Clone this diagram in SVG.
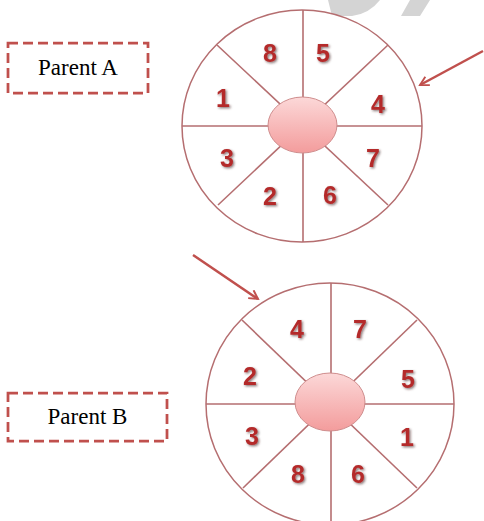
<svg xmlns="http://www.w3.org/2000/svg" width="484" height="521" viewBox="0 0 484 521">
<style>
.wheel{fill:#fff;stroke:#b56e70;stroke-width:1.5}
.spoke{stroke:#b56e70;stroke-width:1.6;fill:none}
.hub{fill:url(#hubGrad);stroke:#cf8d8d;stroke-width:1}
.num{font-family:"Liberation Sans",Arial,sans-serif;font-weight:bold;font-size:25px;fill:#b42c2c;text-anchor:middle;filter:url(#sh)}
.box{fill:none;stroke:#c0504d;stroke-width:2.75;stroke-dasharray:10 5}
.lbl{font-family:"Liberation Serif","Times New Roman",serif;font-size:23px;fill:#000;text-anchor:middle}
.arrow{stroke:#c0504d;stroke-width:2.5;fill:none;marker-end:url(#ah)}
.wm{fill:#d4d4d4}
</style>
<defs>
<linearGradient id="hubGrad" x1="0" y1="0" x2="0" y2="1">
<stop offset="0" stop-color="#fcd8d8"/>
<stop offset="1" stop-color="#f39c9c"/>
</linearGradient>
<filter id="sh" x="-30%" y="-30%" width="160%" height="160%">
<feDropShadow dx="1.3" dy="1.3" stdDeviation="0.9" flood-color="#3a2020" flood-opacity="0.6"/>
</filter>
<marker id="ah" viewBox="0 0 12 12" refX="10" refY="6" markerWidth="4.6" markerHeight="4.6" orient="auto" markerUnits="strokeWidth">
<path d="M1,1 L10,6 L1,11" fill="none" stroke="#c0504d" stroke-width="2"/>
</marker>
</defs>
<g id="watermark">
<path class="wm" d="M328,0 L380,0 Q369,14 352,16 L332,16 Z"/>
<path class="wm" d="M410,0 L430,0 L420,16 L401,16 Z"/>
</g>
<g id="parentA">
<rect class="box" x="8" y="43" width="140" height="50"/>
<text class="lbl" x="78" y="75">Parent A</text>
</g>
<g id="parentB">
<rect class="box" x="8" y="393" width="159" height="48"/>
<text class="lbl" x="87.5" y="424">Parent B</text>
</g>
<g id="wheelA">
<ellipse class="wheel" cx="302" cy="126" rx="120" ry="116"/>
<line class="spoke" x1="303" y1="10" x2="303" y2="242"/>
<line class="spoke" x1="182" y1="126" x2="422" y2="126"/>
<line class="spoke" x1="217" y1="45" x2="388" y2="205"/>
<line class="spoke" x1="388" y1="45" x2="218" y2="205"/>
<ellipse class="hub" cx="302.5" cy="125" rx="34.5" ry="28"/>
<text class="num" x="270" y="62">8</text>
<text class="num" x="323" y="62">5</text>
<text class="num" x="223" y="107">1</text>
<text class="num" x="378" y="113">4</text>
<text class="num" x="227" y="167">3</text>
<text class="num" x="373" y="167">7</text>
<text class="num" x="270" y="205">2</text>
<text class="num" x="330" y="204">6</text>
</g>
<g id="wheelB">
<ellipse class="wheel" cx="330" cy="404" rx="124" ry="121"/>
<line class="spoke" x1="331" y1="283" x2="331" y2="525"/>
<line class="spoke" x1="206" y1="404" x2="454" y2="404"/>
<line class="spoke" x1="242" y1="320" x2="417" y2="488"/>
<line class="spoke" x1="417" y1="320" x2="243" y2="488"/>
<ellipse class="hub" cx="330" cy="402" rx="35" ry="29"/>
<text class="num" x="297" y="338">4</text>
<text class="num" x="360" y="338">7</text>
<text class="num" x="250" y="385">2</text>
<text class="num" x="408" y="388">5</text>
<text class="num" x="252" y="445">3</text>
<text class="num" x="407" y="446">1</text>
<text class="num" x="298" y="483">8</text>
<text class="num" x="358" y="483">6</text>
</g>
<g id="connectors">
<line class="arrow" x1="483" y1="51" x2="420" y2="85"/>
<line class="arrow" x1="193" y1="255" x2="258" y2="299"/>
</g>
</svg>
